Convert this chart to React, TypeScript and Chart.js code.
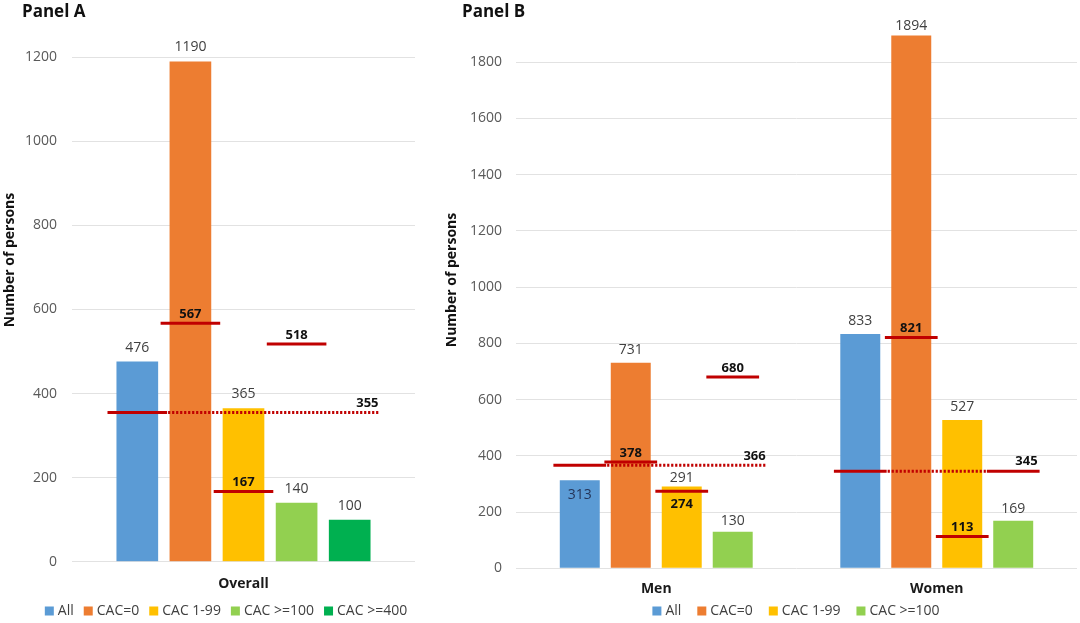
import React, { useEffect, useRef } from "react";
import { Chart, registerables } from "chart.js";

Chart.register(...registerables);

const FONT = '"Open Sans", "Liberation Sans", sans-serif';

// ---------------- Data ----------------
const seriesLabels = ["All", "CAC=0", "CAC 1-99", "CAC >=100", "CAC >=400"];
const seriesColors = ["#5B9BD5", "#ED7D31", "#FFC000", "#92D050", "#00B050"];

// Panel A (Overall), one value per series
const panelACategories = ["Overall"];
const overallCounts = [476, 1190, 365, 140, 100];
const overallExpected: (number | null)[] = [355, 567, 167, 518, null];
const overallReference = 355;
const panelATicks = [0, 200, 400, 600, 800, 1000, 1200];

// Panel B (Men / Women), one value per series
const panelBCategories = ["Men", "Women"];
const menCounts = [313, 731, 291, 130];
const womenCounts = [833, 1894, 527, 169];
const menExpected: (number | null)[] = [366, 378, 274, 680];
const womenExpected: (number | null)[] = [345, 821, 113, 345];
const menReference = 366;
const womenReference = 345;
const panelBTicks = [0, 200, 400, 600, 800, 1000, 1200, 1400, 1600, 1800];

// ---------------- Panel specs ----------------
interface Panel {
  title: string;
  categories: string[];
  counts: number[][]; // [series][category]
  expected: (number | null)[][]; // [series][category]
  reference: (number | null)[]; // per category
  yMax: number;
  ticks: number[];
  style: any;
}

const panelA: Panel = {
  title: "Panel A",
  categories: panelACategories,
  counts: overallCounts.map((v) => [v]),
  expected: overallExpected.map((v) => [v]),
  reference: [overallReference],
  yMax: 1200,
  ticks: panelATicks,
  style: {
    left: 0, width: 440, padTop: 57.3, padRight: 25, yAxisWidth: 72, xAxisHeight: 61.3,
    tickPad: 15, xTickPad: 6, catPct: 0.774, barPct: 0.785, markerScale: 1.43, refOverhang: 8,
    titleX: 22, yTitleX: 10, yTitleY: 260, legendCenter: 226, legendGap: 10,
    labelGap: 14, labelGapOverrides: {} as Record<string, number>,
    insideLabels: [] as number[][], belowMarkerLabels: [] as number[][],
  },
};

const panelB: Panel = {
  title: "Panel B",
  categories: panelBCategories,
  counts: menCounts.map((v, i) => [v, womenCounts[i]]),
  expected: menExpected.map((v, i) => [v, womenExpected[i]]),
  reference: [menReference, womenReference],
  yMax: 2000,
  ticks: panelBTicks,
  style: {
    left: 440, width: 640, padTop: 5.8, padRight: 3, yAxisWidth: 76, xAxisHeight: 54.7,
    tickPad: 14, xTickPad: 4, catPct: 0.727, barPct: 0.784, markerScale: 1.32, refOverhang: 13,
    titleX: 22, yTitleX: 12, yTitleY: 280, legendCenter: 356, legendGap: 16,
    labelGap: 13, labelGapOverrides: { "1,1": 9.5, "2,0": 8, "3,0": 10.5, "3,1": 11.5 } as Record<string, number>,
    insideLabels: [[0, 0]], belowMarkerLabels: [[2, 0]],
  },
};

const RED = "#C00000";

function makeOverlay(p: Panel) {
  const s = p.style;
  const has = (list: number[][], di: number, ci: number) => list.some(([d, c]) => d === di && c === ci);
  return {
    id: "overlay",
    afterDatasetsDraw(chart: any) {
      const ctx = chart.ctx as CanvasRenderingContext2D;
      const y = chart.scales.y;
      const metas = chart.data.datasets.map((_: any, i: number) => chart.getDatasetMeta(i));
      ctx.save();

      // Reference (dotted) lines
      p.categories.forEach((_, ci) => {
        const ref = p.reference[ci];
        if (ref == null) return;
        const py = y.getPixelForValue(ref);
        const allBar = metas[0].data[ci];
        const x0 = allBar.x + (allBar.width * s.markerScale) / 2;
        const lastBar = metas[metas.length - 1].data[ci];
        let x1 = lastBar.x + lastBar.width / 2 + s.refOverhang;
        let labelRight = x1;
        for (let di = 1; di < metas.length; di++) {
          if (p.expected[di][ci] === ref) {
            const b = metas[di].data[ci];
            x1 = b.x - (b.width * s.markerScale) / 2;
            labelRight = b.x + (b.width * s.markerScale) / 2 - 2;
            break;
          }
        }
        ctx.strokeStyle = RED;
        ctx.lineWidth = 3;
        ctx.setLineDash([2.2, 1.8]);
        ctx.beginPath();
        ctx.moveTo(x0 + 1, py);
        ctx.lineTo(x1, py);
        ctx.stroke();
        ctx.setLineDash([]);
        ctx.font = `bold 13px ${FONT}`;
        ctx.fillStyle = "#111111";
        ctx.textAlign = "right";
        ctx.textBaseline = "middle";
        ctx.fillText(String(ref), labelRight, py - 9.5);
      });

      // Expected markers (solid red)
      metas.forEach((meta: any, di: number) => {
        meta.data.forEach((bar: any, ci: number) => {
          const ev = p.expected[di][ci];
          if (ev == null) return;
          const py = y.getPixelForValue(ev);
          const hw = (bar.width * s.markerScale) / 2;
          ctx.strokeStyle = RED;
          ctx.lineWidth = 3;
          ctx.beginPath();
          ctx.moveTo(bar.x - hw, py);
          ctx.lineTo(bar.x + hw, py);
          ctx.stroke();
          // values equal to the reference line are labelled at the reference line end
          if (p.reference[ci] === ev) return;
          ctx.font = `bold 13px ${FONT}`;
          ctx.fillStyle = "#111111";
          ctx.textAlign = "center";
          ctx.textBaseline = "middle";
          const below = has(s.belowMarkerLabels, di, ci);
          ctx.fillText(String(ev), bar.x, below ? py + 13 : py - 9);
        });
      });

      // Value labels
      metas.forEach((meta: any, di: number) => {
        meta.data.forEach((bar: any, ci: number) => {
          const v = chart.data.datasets[di].data[ci];
          const inside = has(s.insideLabels, di, ci);
          const gap = s.labelGapOverrides[`${di},${ci}`] ?? s.labelGap;
          ctx.font = `14px ${FONT}`;
          ctx.fillStyle = inside ? "#25365A" : "#404040";
          ctx.textAlign = "center";
          ctx.textBaseline = "middle";
          ctx.fillText(String(v), bar.x, inside ? bar.y + 15 : bar.y - gap);
        });
      });
      ctx.restore();
    },
    afterDraw(chart: any) {
      const ctx = chart.ctx as CanvasRenderingContext2D;
      ctx.save();
      // Panel title
      ctx.font = `bold 17px ${FONT}`;
      ctx.fillStyle = "#111111";
      ctx.textAlign = "left";
      ctx.textBaseline = "middle";
      ctx.fillText(p.title, s.titleX, 12);
      // Y axis title
      ctx.save();
      ctx.translate(s.yTitleX, s.yTitleY);
      ctx.rotate(-Math.PI / 2);
      ctx.font = `bold 14px ${FONT}`;
      ctx.textAlign = "center";
      ctx.fillText("Number of persons", 0, 0);
      ctx.restore();
      // Legend
      ctx.font = `14px ${FONT}`;
      const items = chart.data.datasets.map((d: any) => ({ text: d.label, color: d.backgroundColor }));
      const box = 9;
      const gapBT = 4;
      const widths = items.map((it: any) => box + gapBT + ctx.measureText(it.text).width);
      const total = widths.reduce((a: number, b: number) => a + b, 0) + s.legendGap * (items.length - 1);
      let x = s.legendCenter - total / 2;
      const ly = 611;
      items.forEach((it: any, i: number) => {
        ctx.fillStyle = it.color;
        ctx.fillRect(x, ly - 4.5, box, box);
        ctx.fillStyle = "#404040";
        ctx.textAlign = "left";
        ctx.textBaseline = "middle";
        ctx.fillText(it.text, x + box + gapBT, ly);
        x += widths[i] + s.legendGap;
      });
      ctx.restore();
    },
  };
}

function PanelChart({ panel }: { panel: Panel }) {
  const ref = useRef<HTMLCanvasElement | null>(null);
  useEffect(() => {
    if (!ref.current) return;
    const s = panel.style;
    const chart = new Chart(ref.current, {
      type: "bar",
      data: {
        labels: panel.categories,
        datasets: panel.counts.map((vals, i) => ({
          label: seriesLabels[i],
          data: vals,
          backgroundColor: seriesColors[i],
          borderWidth: 0,
          categoryPercentage: s.catPct,
          barPercentage: s.barPct,
        })),
      },
      options: {
        responsive: false,
        animation: false,
        devicePixelRatio: 1,
        layout: { padding: { top: s.padTop, right: s.padRight, bottom: 0, left: 0 } },
        plugins: { legend: { display: false }, tooltip: { enabled: false }, title: { display: false } },
        scales: {
          x: {
            grid: { display: false },
            border: { display: false },
            ticks: { color: "#1a1a1a", font: { family: FONT, size: 14, weight: "bold" }, padding: s.xTickPad },
            afterFit: (sc: any) => {
              sc.height = s.xAxisHeight;
              sc.paddingLeft = 0;
              sc.paddingRight = 0;
            },
          },
          y: {
            min: 0,
            max: panel.yMax,
            afterBuildTicks: (axis: any) => {
              axis.ticks = panel.ticks.map((v) => ({ value: v }));
            },
            grid: { color: "#E2E2E2", lineWidth: 1, drawTicks: false },
            border: { display: false },
            ticks: {
              color: "#595959",
              font: { family: FONT, size: 14 },
              padding: s.tickPad,
              callback: (v: any) => String(v),
            },
            afterFit: (sc: any) => {
              sc.width = s.yAxisWidth;
              sc.paddingTop = 0;
              sc.paddingBottom = 0;
            },
          },
        },
      },
      plugins: [makeOverlay(panel)],
    } as any);
    return () => chart.destroy();
  }, [panel]);
  const s = panel.style;
  return (
    <canvas
      ref={ref}
      width={s.width}
      height={623}
      style={{ position: "absolute", left: s.left, top: 0, width: s.width, height: 623 }}
    />
  );
}

export default function App() {
  return (
    <div style={{ position: "absolute", left: 0, top: 0, width: 1080, height: 623, background: "#ffffff", overflow: "hidden" }}>
      <PanelChart panel={panelA} />
      <PanelChart panel={panelB} />
    </div>
  );
}
